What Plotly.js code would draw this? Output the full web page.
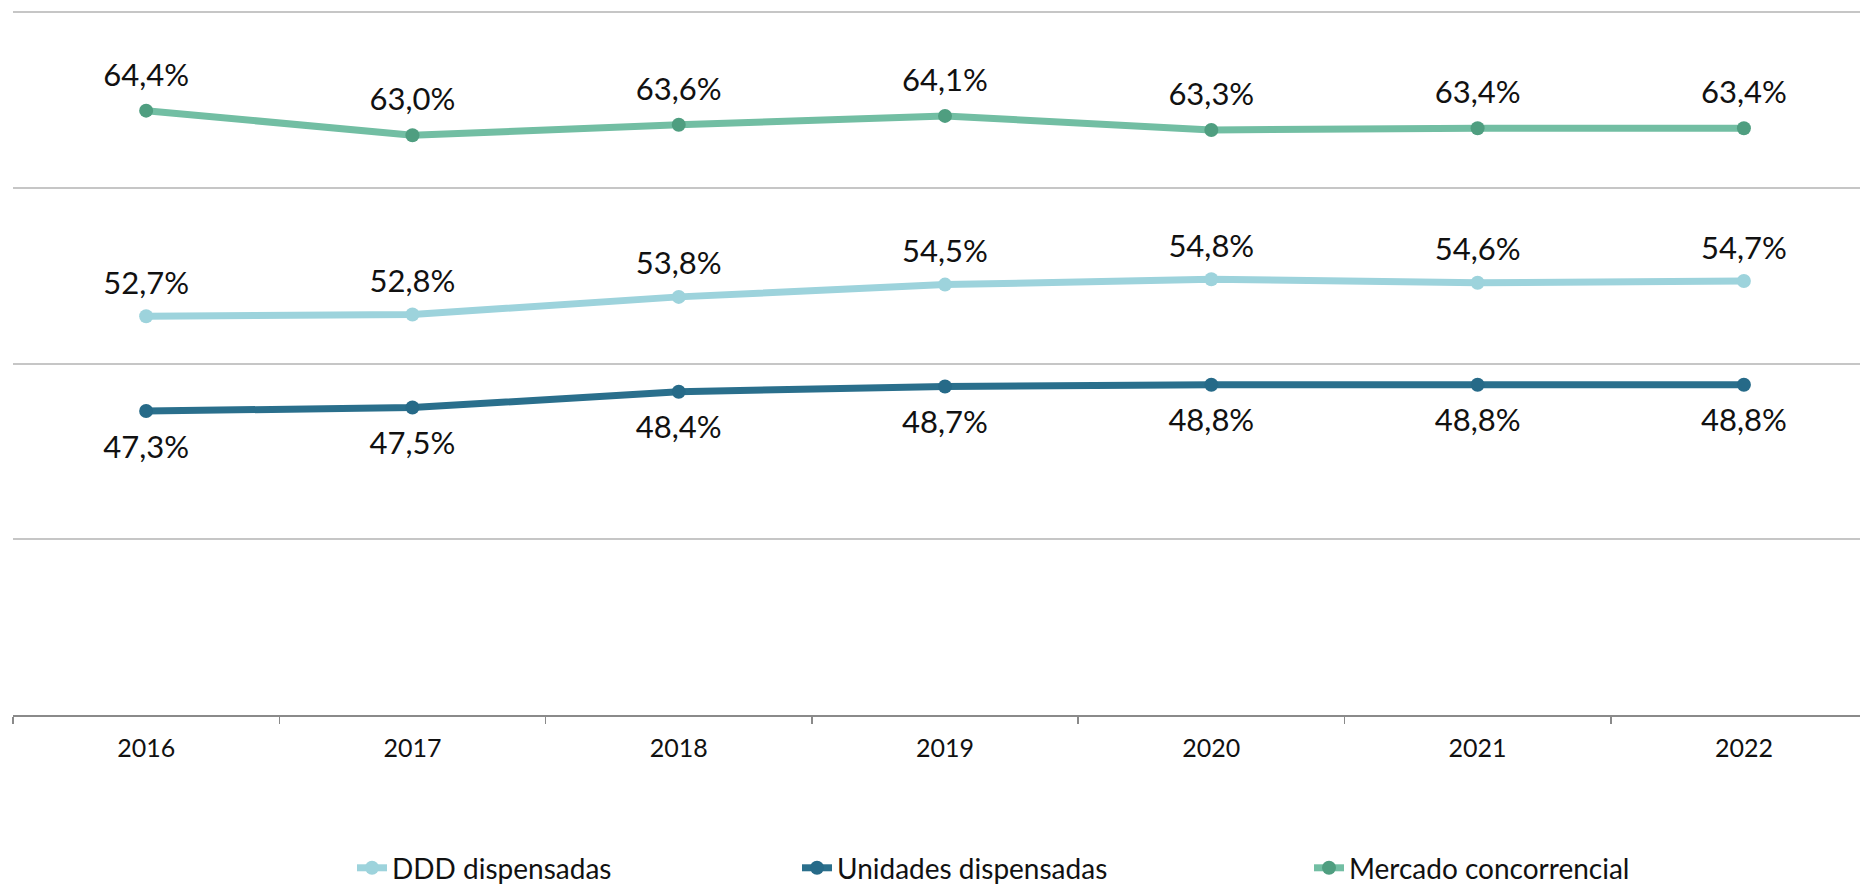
<!DOCTYPE html>
<html>
<head>
<meta charset="utf-8">
<script src="https://cdn.plot.ly/plotly-3.0.1.min.js"></script>
<style>html,body{margin:0;padding:0;background:#fff;}#chart{width:1860px;height:884px;}</style>
</head>
<body>
<div id="chart"></div>
<script>
const years = ['2016','2017','2018','2019','2020','2021','2022'];
const dddDispensadas = [52.7, 52.8, 53.8, 54.5, 54.8, 54.6, 54.7];
const unidadesDispensadas = [47.3, 47.5, 48.4, 48.7, 48.8, 48.8, 48.8];
const mercadoConcorrencial = [64.4, 63.0, 63.6, 64.1, 63.3, 63.4, 63.4];
const seriesNames = ['DDD dispensadas', 'Unidades dispensadas', 'Mercado concorrencial'];

const FONT = 'Lato, "Open Sans", sans-serif';
const fmt = v => v.toFixed(1).replace('.', ',') + '%';

const series = [
  {name: seriesNames[0], y: dddDispensadas, line: '#9dd3dc', marker: '#9dd3dc', legend: 'legend', pos: 'top center', gap: 22},
  {name: seriesNames[1], y: unidadesDispensadas, line: '#2a6f8c', marker: '#266a88', legend: 'legend2', pos: 'bottom center', gap: 36},
  {name: seriesNames[2], y: mercadoConcorrencial, line: '#72bea3', marker: '#4f9e80', legend: 'legend3', pos: 'top center', gap: 26}
];

const traces = [];
series.forEach(s => {
  traces.push({
    type: 'scatter', mode: 'lines+markers', name: s.name, x: years, y: s.y,
    line: {color: s.line, width: 7},
    marker: {color: s.marker, size: 14},
    legend: s.legend, hoverinfo: 'skip'
  });
});
series.forEach(s => {
  traces.push({
    type: 'scatter', mode: 'markers+text', x: years, y: s.y, text: s.y.map(fmt),
    textposition: s.pos, textfont: {family: FONT, size: 31, color: '#111'},
    marker: {size: s.gap, color: 'rgba(0,0,0,0)', line: {width: 0}},
    showlegend: false, hoverinfo: 'skip', cliponaxis: false
  });
});

const legendBase = {orientation: 'h', yanchor: 'middle', xanchor: 'left', y: 0.018,
  xref: 'container', yref: 'container',
  font: {family: FONT, size: 28, color: '#111'}, bgcolor: 'rgba(0,0,0,0)', itemwidth: 30};

const layout = {
  width: 1860, height: 884,
  margin: {l: 13, r: 0, t: 7, b: 169},
  paper_bgcolor: '#fff', plot_bgcolor: '#fff',
  showlegend: true,
  xaxis: {type: 'category', range: [-0.5, 6.436], tickson: 'boundaries', ticks: 'outside', ticklen: 7,
    tickwidth: 1.5, tickcolor: '#8a8a8a', showline: true, linecolor: '#8a8a8a', linewidth: 2,
    showgrid: false, ticklabelstandoff: 10, tickfont: {family: FONT, size: 25, color: '#111'}, fixedrange: true},
  yaxis: {range: [30, 70.3], dtick: 10, showticklabels: false, showgrid: true, gridcolor: '#c6c6c6', gridwidth: 2,
    zeroline: false, showline: false, fixedrange: true},
  legend: Object.assign({}, legendBase, {x: 352 / 1860}),
  legend2: Object.assign({}, legendBase, {x: 797 / 1860}),
  legend3: Object.assign({}, legendBase, {x: 1309 / 1860})
};

Plotly.newPlot('chart', traces, layout, {displayModeBar: false, staticPlot: true});
</script>
</body>
</html>
